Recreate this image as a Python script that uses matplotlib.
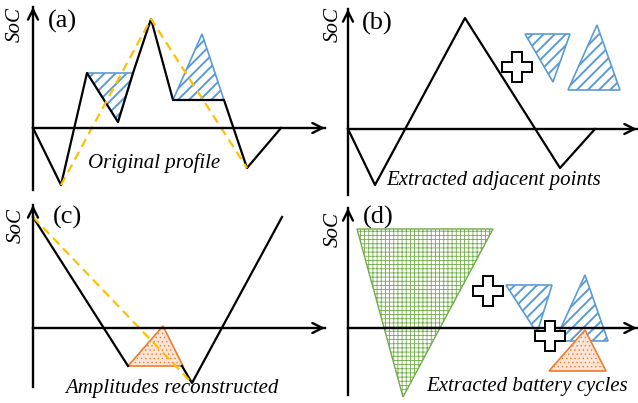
import matplotlib.pyplot as plt
from matplotlib.patches import FancyArrowPatch
from matplotlib.transforms import Affine2D

# Panel (a): original SoC profile, half cycles and the full cycle
prof_a_t = [0, 28, 54, 85, 100, 118, 140, 191, 214, 248]
prof_a_soc = [0, -57, 55, 6, 55, 109, 28, 28, -40, 0]
half1_a_t, half1_a_soc = [54, 100, 85], [55, 55, 6]
half2_a_t, half2_a_soc = [140, 191, 169], [28, 28, 94]
full_a_t, full_a_soc = [28, 118, 214], [-57, 109, -40]

# Panel (b): profile after removing the adjacent points
prof_b_t = [0, 27, 117, 212, 247]
prof_b_soc = [0, -56, 111, -39, 0]
half1_b_t, half1_b_soc = [177, 222, 205], [95, 95, 47]
half2_b_t, half2_b_soc = [220, 272, 249], [39, 39, 104]

# Panel (c): reconstructed amplitudes
prof_c1_t, prof_c1_soc = [0, 95], [111, -38]
prof_c2_t, prof_c2_soc = [149, 159, 249], [-38, -55, 111]
cyc_c_t, cyc_c_soc = [95, 150, 130], [-38, -38, 2]
full_c_t, full_c_soc = [0, 159], [111, -55]

# Panel (d): all extracted cycles
big_d_t, big_d_soc = [9, 145, 55], [99, 99, -69]
half1_d_t, half1_d_soc = [158, 204, 189], [43, 43, -5]
half2_d_t, half2_d_soc = [207, 260, 237], [-13, -13, 53]
cyc_d_t, cyc_d_soc = [201, 258, 237], [-43, -43, -2]

BLUE = '#5b9bd5'
ORANGE = '#ed7d31'
GREEN = '#70ad47'
YELLOW = '#ffc000'
W, H = 638, 403

fig = plt.figure(figsize=(W / 100, H / 100), dpi=100)
ax = fig.add_axes([0, 0, 1, 1])
ax.set_xlim(0, W)
ax.set_ylim(H, 0)
ax.axis('off')


def panel(ox, oy):
    """Transform for one sub-diagram: t to the right, SoC upwards, origin (ox, oy)."""
    return Affine2D().scale(1, -1).translate(ox, oy) + ax.transData


def draw_axes(tr, xmax, ymin, ymax, label, tlab, soclab):
    # shafts as plain lines, open arrow heads on the last few pixels
    ax.plot([0, xmax], [0, 0], color='black', lw=1.7, zorder=6, transform=tr)
    ax.plot([0, 0], [ymin, ymax], color='black', lw=1.7, zorder=6,
            transform=tr)
    for start, end in [((xmax - 8, 0), (xmax, 0)), ((0, ymax - 8), (0, ymax))]:
        arr = FancyArrowPatch(start, end, arrowstyle='->', lw=1.7,
                              color='black', mutation_scale=18,
                              shrinkA=0, shrinkB=0, zorder=6, transform=tr)
        ax.add_patch(arr)
    ax.text(tlab, soclab, label, family='Liberation Serif', fontsize=19,
            ha='center', va='center', transform=tr)


def soc_label(tr, x, y):
    ax.text(x, y, 'SoC', family='Liberation Serif', style='italic',
            fontsize=15, rotation=90, ha='center', va='center', transform=tr)


def caption(tr, x, y, s):
    ax.text(x, y, s, family='Liberation Serif', style='italic', fontsize=15,
            ha='center', va='center', transform=tr)


def hatched(tr, t, soc, color, hatch, face='none', lw=1.2, hlw=1.4, z=1):
    with plt.rc_context({'hatch.linewidth': hlw}):
        poly = ax.fill(t, soc, facecolor=face, edgecolor=color, hatch=hatch,
                       lw=lw, zorder=z, transform=tr)[0]
    if hasattr(poly, 'set_hatch_linewidth'):
        poly.set_hatch_linewidth(hlw)


def line(tr, t, soc, color='black', ls='-', z=3):
    ax.plot(t, soc, color=color, lw=1.6, ls=ls, zorder=z, transform=tr)


def plus(tr, t, soc, z=7):
    ax.plot(t, soc, marker='P', markersize=21, markerfacecolor='white',
            markeredgecolor='black', markeredgewidth=1.4, ls='none', zorder=z,
            transform=tr)


DASH = (0, (4, 2.5))

# (a)
tr = panel(33, 128)
hatched(tr, half1_a_t, half1_a_soc, BLUE, '///')
hatched(tr, half2_a_t, half2_a_soc, BLUE, '///')
line(tr, prof_a_t, prof_a_soc)
line(tr, full_a_t, full_a_soc, color=YELLOW, ls=DASH, z=4)
draw_axes(tr, 292, -62, 121, '(a)', 29, 107)
soc_label(tr, -18, 103)
caption(tr, 121, -35, 'Original profile')

# (b)
tr = panel(348, 129)
hatched(tr, half1_b_t, half1_b_soc, BLUE, '///')
hatched(tr, half2_b_t, half2_b_soc, BLUE, '///')
line(tr, prof_b_t, prof_b_soc)
plus(tr, [169], [62])
draw_axes(tr, 289, -66, 120, '(b)', 29, 106)
soc_label(tr, -15, 104)
caption(tr, 146, -51, 'Extracted adjacent points')

# (c)
tr = panel(33, 328)
hatched(tr, cyc_c_t, cyc_c_soc, ORANGE, '....', face='#fbe5d6', hlw=0.5)
line(tr, prof_c1_t, prof_c1_soc)
line(tr, prof_c2_t, prof_c2_soc)
line(tr, full_c_t, full_c_soc, color=YELLOW, ls=DASH, z=4)
draw_axes(tr, 292, -59, 123, '(c)', 35, 111)
soc_label(tr, -17, 102)
caption(tr, 139, -60, 'Amplitudes reconstructed')

# (d)
tr = panel(348, 328)
hatched(tr, big_d_t, big_d_soc, GREEN, '++++', lw=1.0, hlw=0.6)
hatched(tr, half1_d_t, half1_d_soc, BLUE, '///')
hatched(tr, half2_d_t, half2_d_soc, BLUE, '///')
hatched(tr, cyc_d_t, cyc_d_soc, ORANGE, '....', face='#fbe5d6', hlw=0.5, z=2)
plus(tr, [140], [37])
plus(tr, [202], [-8])
draw_axes(tr, 289, -67, 120, '(d)', 30, 111)
soc_label(tr, -15, 98)
caption(tr, 179, -59, 'Extracted battery cycles')

fig.savefig('out.png', dpi=100)
